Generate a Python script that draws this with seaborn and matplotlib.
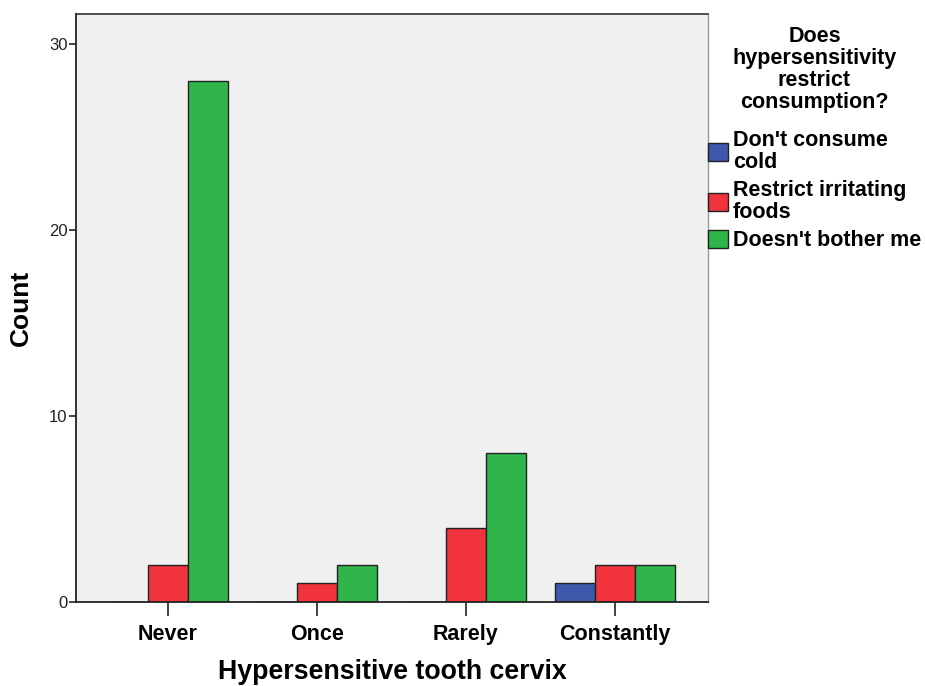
import matplotlib
matplotlib.use('Agg')
import matplotlib.pyplot as plt
import pandas as pd
import seaborn as sns

# values
categories = ['Never', 'Once', 'Rarely', 'Constantly']
groups = ["Don't consume\ncold", 'Restrict irritating\nfoods', "Doesn't bother me"]
dont_consume = [0, 0, 0, 1]
restrict_foods = [2, 1, 4, 2]
no_bother = [28, 2, 8, 2]
colors = ['#3e58ac', '#f0333c', '#2fb54a']


def main():
    sns.set_style('white')
    plt.rcParams['font.family'] = ['Liberation Sans', 'DejaVu Sans']
    plt.rcParams['text.color'] = 'black'
    plt.rcParams['axes.labelcolor'] = 'black'

    rows = []
    for series, name in zip([dont_consume, restrict_foods, no_bother], groups):
        for cat, val in zip(categories, series):
            rows.append({'cervix': cat, 'count': val, 'restrict': name})
    df = pd.DataFrame(rows)

    fig = plt.figure(figsize=(9.25, 6.86), dpi=100)
    ax = fig.add_axes([0.0822, 0.1224, 0.6832, 0.8572])

    sns.barplot(
        data=df, x='cervix', y='count', hue='restrict',
        order=categories, hue_order=groups, palette=colors, saturation=1,
        width=0.81, edgecolor='#222222', linewidth=1.0, ax=ax
    )

    ax.set_facecolor('#f0f0f0')
    ax.set_xlim(-0.617, 3.624)
    ax.set_ylim(0, 31.6)
    ax.set_yticks([0, 10, 20, 30])
    ax.tick_params(axis='y', labelsize=12, length=5, width=1.2, pad=1, left=True,
                   colors='#222222', labelcolor='#222222')
    ax.tick_params(axis='x', labelsize=15.5, length=10, width=1.2, pad=6, bottom=True,
                   colors='#222222', labelcolor='black')
    for lbl in ax.get_xticklabels():
        lbl.set_fontweight('bold')

    ax.set_xlabel('Hypersensitive tooth cervix', fontsize=19.3, fontweight='bold', labelpad=10)
    ax.set_ylabel('Count', fontsize=19, fontweight='bold', labelpad=12)

    for side in ['left', 'bottom']:
        ax.spines[side].set_color('#222222')
        ax.spines[side].set_linewidth(1.3)
    ax.spines['top'].set_color('#333333')
    ax.spines['top'].set_linewidth(1.2)
    ax.spines['right'].set_color('#999999')
    ax.spines['right'].set_linewidth(1.0)

    leg = ax.legend(
        title='Does\nhypersensitivity\nrestrict\nconsumption?',
        loc='upper left', bbox_to_anchor=(1.0, 0.98), frameon=False,
        prop={'weight': 'bold', 'size': 15.5}, title_fontproperties={'weight': 'bold', 'size': 15.5},
        handlelength=0.92, handleheight=0.92, handletextpad=0.23, borderpad=0,
        borderaxespad=0, labelspacing=0.32
    )
    leg.get_title().set_multialignment('center')
    leg.get_title().set_linespacing(1.07)
    for t in leg.get_texts():
        t.set_linespacing(1.07)
    leg._legend_box.sep = 12

    fig.savefig('out.png', dpi=100)


if __name__ == '__main__':
    main()
